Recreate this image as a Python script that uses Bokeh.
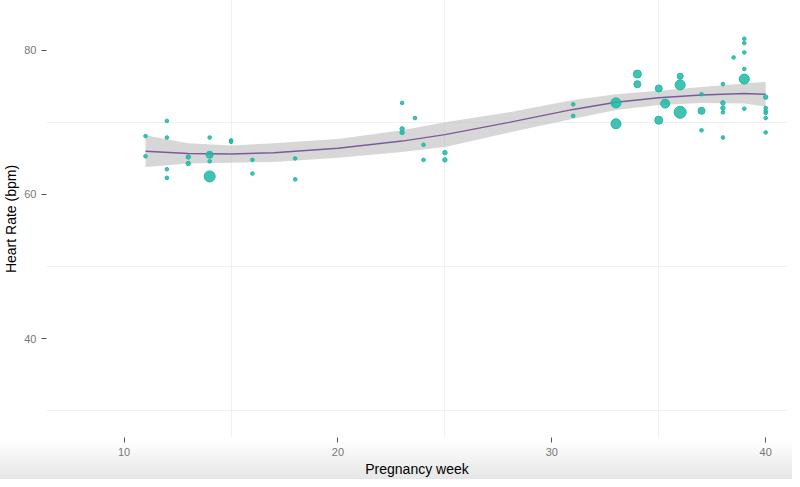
from bokeh.plotting import figure
from bokeh.models import FixedTicker, Range1d, ColumnDataSource
from bokeh.embed import file_html
from bokeh.resources import INLINE

week = [11,11,12,12,12,12,13,13,14,14,14,14,15,15,16,16,18,18,23,23,23,23.6,24,24,25,25,
        31,31,33,33,34,34,35,35,35.3,36,36,36,37,37,37,38,38,38,38,38,38.5,39,39,39,39,39,39,
        40,40,40,40,40,40]
hr = [68.1,65.3,70.2,67.9,63.5,62.3,65.2,64.3,67.9,65.5,64.6,62.5,67.5,67.3,64.8,62.9,65.0,62.1,
      72.7,69.1,68.6,70.6,66.9,64.8,65.8,64.8,
      72.5,70.9,72.7,69.8,76.7,75.3,74.7,70.3,72.6,76.4,75.2,71.4,73.9,71.6,68.9,
      75.3,72.7,72.0,71.4,67.9,79.0,81.6,81.0,79.7,77.4,76.0,71.9,
      73.5,72.0,71.6,71.3,70.6,68.6]
size = [1.8,1.8,1.8,1.8,1.8,1.8,2.2,2.2,1.8,3.5,1.8,5.5,1.8,1.8,1.8,1.8,1.8,1.8,
        1.8,2.2,2.2,1.8,1.8,1.8,2.2,2.2,
        1.8,1.8,5,5,4,3.5,3.5,4,4.5,3,5,6,1.8,3.5,1.8,
        1.8,2.2,2.2,1.8,1.8,1.8,1.8,1.8,1.8,1.8,5,1.8,
        2.2,1.8,1.8,1.8,1.8,1.8]

fit_x = [11,13,15,17,20,23,25,28,31,33,35,37,39,40]
fit_y = [66.0,65.7,65.6,65.8,66.4,67.4,68.3,70.0,71.8,72.8,73.4,73.8,74.0,73.9]
fit_lo = [63.8,64.3,64.4,64.5,65.1,65.9,66.6,68.6,70.5,71.7,72.4,72.7,72.6,72.2]
fit_hi = [68.2,67.1,66.8,67.1,67.7,68.9,70.0,71.4,73.1,73.9,74.4,74.9,75.4,75.6]

p = figure(width=792, height=479, output_backend="svg", toolbar_location=None,
           x_range=Range1d(6.37, 41.02), y_range=Range1d(26.3, 86.9),
           min_border_left=42, min_border_right=5, min_border_top=0, min_border_bottom=40)
p.outline_line_color = None
p.border_fill_alpha = 0
p.styles = {"background": "linear-gradient(to bottom, #ffffff 0px, #ffffff 440px, #e6e6e6 479px)"}

p.varea(x=fit_x, y1=fit_lo, y2=fit_hi, fill_color="#bdbdbd", fill_alpha=0.6)
p.line(fit_x, fit_y, line_color="#7b5c9a", line_width=1.5)
src = ColumnDataSource(dict(x=week, y=hr, r=size))
p.circle("x", "y", radius="r", radius_units="screen", source=src,
         fill_color="#1fb8a6", line_color="#1fb8a6", fill_alpha=0.85)

p.xaxis.ticker = FixedTicker(ticks=[10, 20, 30, 40])
p.yaxis.ticker = FixedTicker(ticks=[40, 60, 80])
p.xgrid.ticker = FixedTicker(ticks=[15, 25, 35])
p.ygrid.ticker = FixedTicker(ticks=[30, 50, 70])
p.grid.grid_line_color = "#f0f0f0"
for ax in (p.xaxis, p.yaxis):
    ax.axis_line_color = None
    ax.major_tick_line_color = "#555555"
    ax.major_tick_out = 5
    ax.major_tick_in = 0
    ax.minor_tick_line_color = None
    ax.major_label_text_color = "#777777"
    ax.major_label_text_font = "Liberation Sans"
    ax.major_label_text_font_size = "11px"
    ax.axis_label_text_font = "Liberation Sans"
    ax.axis_label_text_font_size = "14px"
    ax.axis_label_text_font_style = "normal"
    ax.axis_label_text_color = "#000000"
    ax.axis_label_standoff = 2
p.xaxis.axis_label = "Pregnancy week"
p.yaxis.axis_label = "Heart Rate (bpm)"

open("out.html", "w").write(file_html(p, INLINE))
